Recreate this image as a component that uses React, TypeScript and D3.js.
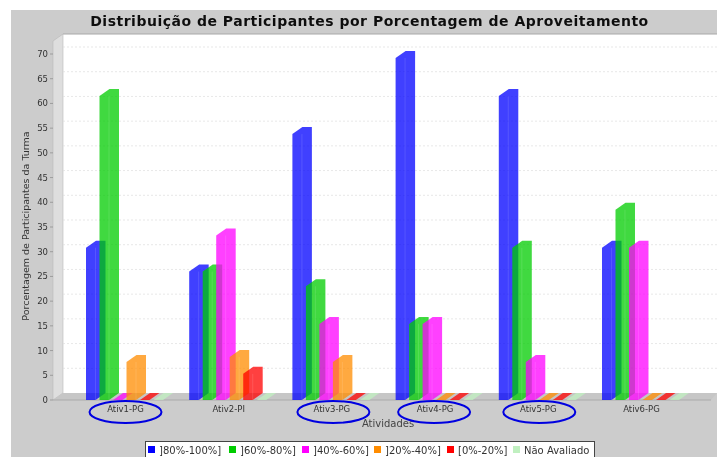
import React from "react";
import * as d3 from "d3";

const categories = ["Ativ1-PG", "Ativ2-PI", "Ativ3-PG", "Ativ4-PG", "Ativ5-PG", "Ativ6-PG"];
const seriesNames = ["]80%-100%]", "]60%-80%]", "]40%-60%]", "]20%-40%]", "[0%-20%]", "Não Avaliado"];
const seriesColors = ["#0000ff", "#00cc00", "#ff00ff", "#ff8c00", "#ff0000", "#c0f0c0"];
const s80 = [30.8, 26, 53.8, 69.2, 61.5, 30.8];
const s60 = [61.5, 26, 23, 15.4, 30.8, 38.5];
const s40 = [0, 33.3, 15.4, 15.4, 7.7, 30.8];
const s20 = [7.7, 8.7, 7.7, 0, 0, 0];
const s0 = [0, 5.3, 0, 0, 0, 0];
const sNA = [0, 0, 0, 0, 0, 0];
const allSeries = [s80, s60, s40, s20, s0, sNA];
const yTicks = d3.range(0, 75, 5);
const circled = ["Ativ1-PG", "Ativ3-PG", "Ativ4-PG", "Ativ5-PG"];
const circleNudge = [0, 1.5, -1, 1];

const W = 717, H = 457;
const DX = 10, DY = 7;
const x0 = 53, xR = 707, yBase = 400, yTop = 41;

export default function App() {
  const y = d3.scaleLinear().domain([0, 70]).range([yBase, 54]);
  const band = d3.scaleBand<string>().domain(categories).range([86, 683]).paddingInner(0.215).paddingOuter(0);
  const bar = d3.scaleBand<number>().domain(d3.range(6)).range([0, band.bandwidth()]);
  const font = "'DejaVu Sans', sans-serif";
  const legendX = [148, 229, 302, 374, 447, 513];
  const w = 9.5;
  return (
    <svg width={W} height={H} style={{ position: "fixed", left: 0, top: 0, background: "#fff" }}>
      <defs>
        <filter id="soft" x="-2%" y="-2%" width="104%" height="104%">
          <feGaussianBlur stdDeviation="0.4" />
        </filter>
      </defs>
      <g filter="url(#soft)">
        <rect x={11} y={10} width={W - 11} height={H - 10} fill="#cccccc" />
        <rect x={x0 + DX} y={yTop - DY} width={W - x0 - DX} height={yBase - yTop} fill="#ffffff" />
        <line x1={x0 + DX} x2={W} y1={yTop - DY} y2={yTop - DY} stroke="#a8a8a8" />
        <polygon points={`${x0},${yTop} ${x0 + DX},${yTop - DY} ${x0 + DX},${yBase - DY} ${x0},${yBase}`} fill="#dedede" stroke="#b8b8b8" strokeWidth={0.6} />
        <polygon points={`${x0},${yBase} ${x0 + DX},${yBase - DY} ${W},${yBase - DY} ${xR + 4},${yBase}`} fill="#c6c6c6" />
        <line x1={x0} x2={xR + 4} y1={yBase} y2={yBase} stroke="#aaaaaa" />
        {yTicks.map((t) => (
          <g key={t}>
            {t > 0 && <line x1={x0 + DX} x2={W} y1={y(t) - DY} y2={y(t) - DY} stroke="#dddddd" strokeWidth={0.7} strokeDasharray="2 2" />}
            <line x1={x0 - 3} x2={x0} y1={y(t)} y2={y(t)} stroke="#888" strokeWidth={0.7} />
            <text x={x0 - 5} y={y(t) + 3} textAnchor="end" fontFamily={font} fontSize={8.5} fill="#333">{t}</text>
          </g>
        ))}
        {categories.map((c, ci) =>
          allSeries.map((vals, si) => {
            const bx = band(c)! + bar(si)!;
            const top = y(vals[ci]);
            const col = seriesColors[si];
            return (
              <g key={`${ci}-${si}`}>
                <path
                  fill={col}
                  fillOpacity={0.75}
                  d={`M${bx},${yBase}V${top}L${bx + DX},${top - DY}H${bx + w + DX}V${yBase - DY}L${bx + w},${yBase}Z`}
                />
                {vals[ci] > 0 && (
                  <line x1={bx + w} x2={bx + w} y1={top} y2={yBase} stroke="#ffffff" strokeOpacity={0.15} strokeWidth={0.8} />
                )}
              </g>
            );
          })
        )}
        {categories.map((c) => {
          const cx = band(c)! + band.bandwidth() / 2 - 1;
          return (
            <text key={c} x={cx} y={412} textAnchor="middle" fontFamily={font} fontSize={8.5} fill="#333">{c}</text>
          );
        })}
        <text x={388} y={427} textAnchor="middle" fontFamily={font} fontSize={10} fill="#444">Atividades</text>
        <text transform="translate(29,226) rotate(-90)" textAnchor="middle" fontFamily={font} fontSize={9.5} fill="#333">Porcentagem de Participantes da Turma</text>
        <text x={369.5} y={26} textAnchor="middle" fontFamily={font} fontSize={14} fontWeight="bold" letterSpacing={0.5} fill="#111">Distribuição de Participantes por Porcentagem de Aproveitamento</text>
        {categories.filter((c) => circled.includes(c)).map((c, i) => (
          <ellipse key={c} cx={band(c)! + band.bandwidth() / 2 - 1 + circleNudge[i]} cy={412} rx={36} ry={11} fill="none" stroke="#0000e0" strokeWidth={2} />
        ))}
        <rect x={145.5} y={441.5} width={449} height={20} fill="#ffffff" stroke="#444" />
        {seriesNames.map((n, i) => (
          <g key={n}>
            <rect x={legendX[i]} y={446} width={7} height={7} fill={seriesColors[i]} />
            <text x={legendX[i] + 11} y={454} fontFamily={font} fontSize={10} fill="#333">{n}</text>
          </g>
        ))}
      </g>
    </svg>
  );
}
